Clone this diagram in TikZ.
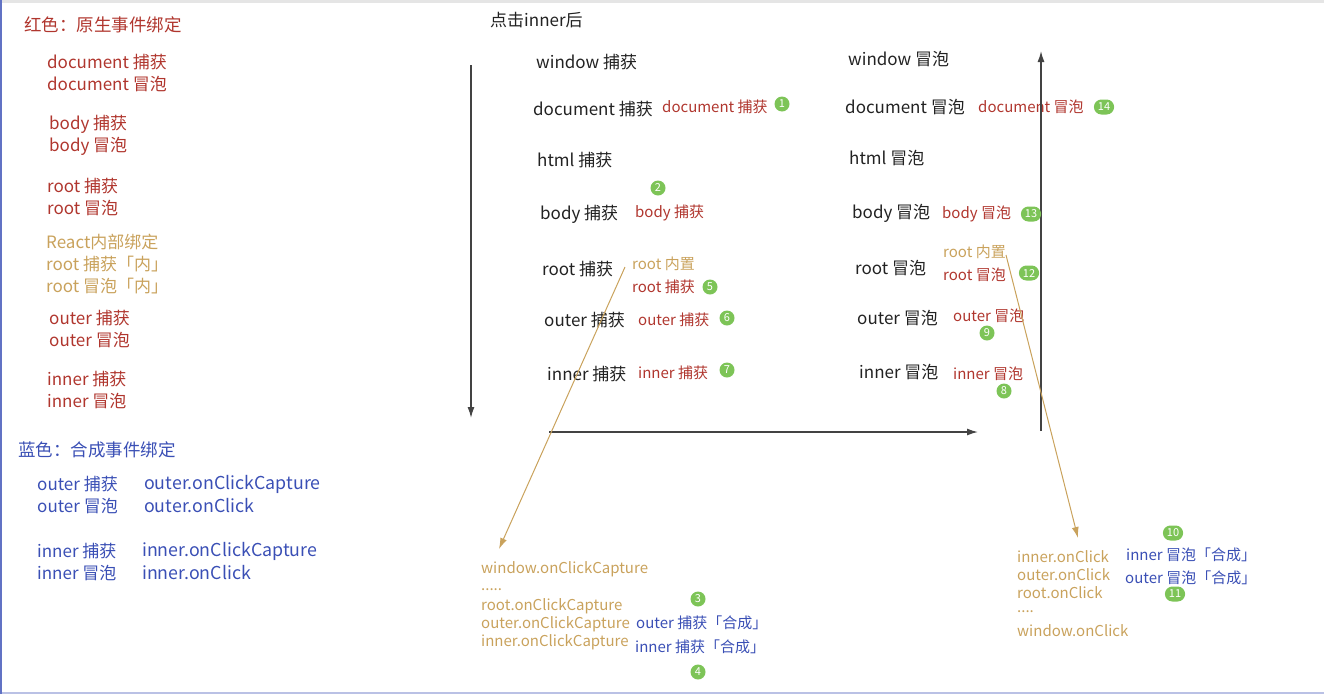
\documentclass[tikz,border=0pt]{standalone}
\usepackage{fontspec}
\setmainfont{Noto Sans CJK SC}
\usetikzlibrary{arrows.meta}
\definecolor{natred}{HTML}{B0362E}
\definecolor{reactgold}{HTML}{C9A25C}
\definecolor{synblue}{HTML}{3A4FB5}
\definecolor{badgegreen}{HTML}{7DC457}
\definecolor{inktext}{HTML}{222222}
\newcommand{\manydots}{.....}
\newcommand{\fourdots}{....}
\tikzset{
  lbl/.style={anchor=west, inner sep=0pt, text=inktext, font=\fontsize{17}{17}\selectfont},
  side/.style={lbl, font=\fontsize{15}{15}\selectfont},
  small/.style={lbl, font=\fontsize{15}{15}\selectfont},
  badge/.style={fill=badgegreen, text=white, rounded corners=7.5pt, inner xsep=4pt, inner ysep=0pt,
    minimum width=15pt, minimum height=15pt, font=\fontsize{11}{11}\selectfont},
  flow/.style={draw=inktext!85, line width=1.4pt, -{Latex[length=11pt,width=7pt]}},
  hook/.style={draw=reactgold, line width=1pt, -{Latex[length=11pt,width=7pt]}}
}
\begin{document}
\begin{tikzpicture}[x=1pt,y=-1pt]
    \useasboundingbox (0,0) rectangle (1324,694);
    % screen frame
    \draw[black!10, line width=3pt] (0,1.5) -- (1324,1.5);
    \draw[synblue!35, line width=2pt] (0,693) -- (1324,693);
    \draw[synblue!80, line width=2pt] (1,0) -- (1,694);

    % legend: native
    \node[lbl, text=natred, font=\fontsize{17.5}{17.5}\selectfont] (natTitle) at (24,25) {红色：原生事件绑定};
    \foreach \x/\y/\t/\n in {47/62/document 捕获/docC, 47/84/document 冒泡/docB,
        49/124/body 捕获/bodyC, 49/146/body 冒泡/bodyB, 47/186/root 捕获/rootC, 47/208/root 冒泡/rootB,
        49/318/outer 捕获/outerC, 49/340/outer 冒泡/outerB, 47/379/inner 捕获/innerC, 47/401/inner 冒泡/innerB}{
        \node[lbl, text=natred] (nat\n) at (\x,\y) {\t};
    }
    \foreach \y/\t/\n in {242/React内部绑定/title, 264/root 捕获「内」/rootC, 286/root 冒泡「内」/rootB}{
        \node[lbl, text=reactgold] (in\n) at (46,\y) {\t};
    }

    % legend: synthetic
    \node[lbl, text=synblue, font=\fontsize{17.5}{17.5}\selectfont] (synTitle) at (18,450) {蓝色：合成事件绑定};
    \foreach \y/\t/\f/\n in {484/outer 捕获/outer.onClickCapture/outerC, 506/outer 冒泡/outer.onClick/outerB}{
        \node[lbl, text=synblue] (syn\n) at (37,\y) {\t};
        \node[lbl, text=synblue, font=\fontsize{17.8}{17.8}\selectfont] (fn\n) at (144,\y) {\f};
    }
    \foreach \y/\t/\f/\n in {551/inner 捕获/inner.onClickCapture/innerC, 573/inner 冒泡/inner.onClick/innerB}{
        \node[lbl, text=synblue] (syn\n) at (37,\y) {\t};
        \node[lbl, text=synblue, font=\fontsize{17.8}{17.8}\selectfont] (fn\n) at (142,\y) {\f};
    }

    % capture phase
    \node[lbl] (clickTitle) at (490,20) {点击inner后};
    \foreach \x/\y/\t/\n in {536/62/window 捕获/win, 533/109/document 捕获/doc, 537/160/html 捕获/html,
        540/214/body 捕获/body, 542/269/root 捕获/root, 544/320/outer 捕获/outer, 547/374/inner 捕获/inner}{
        \node[lbl] (cap\n) at (\x,\y) {\t};
    }
    \node[side, text=natred] (capDocN) at (662,107) {document 捕获};
    \node[side, text=natred] (capBodyN) at (635,213) {body 捕获};
    \node[side, text=reactgold] (capRootIn) at (632,264) {root 内置};
    \node[side, text=natred] (capRootN) at (632,287) {root 捕获};
    \node[side, text=natred] (capOuterN) at (638,320) {outer 捕获};
    \node[side, text=natred] (capInnerN) at (638,373) {inner 捕获};

    % bubble phase
    \foreach \x/\y/\t/\n in {848/59/window 冒泡/win, 845/107/document 冒泡/doc, 849/158/html 冒泡/html,
        852/213/body 冒泡/body, 855/268/root 冒泡/root, 857/318/outer 冒泡/outer, 859/372/inner 冒泡/inner}{
        \node[lbl] (bub\n) at (\x,\y) {\t};
    }
    \node[side, text=natred] (bubDocN) at (978,107) {document 冒泡};
    \node[side, text=natred] (bubBodyN) at (942,214) {body 冒泡};
    \node[side, text=reactgold] (bubRootIn) at (943,252) {root 内置};
    \node[side, text=natred] (bubRootN) at (943,275) {root 冒泡};
    \node[side, text=natred] (bubOuterN) at (953,316) {outer 冒泡};
    \node[side, text=natred] (bubInnerN) at (953,374) {inner 冒泡};

    % axes
    \coordinate (capTop) at (471,65);
    \coordinate (capEnd) at (471,418);
    \coordinate (timeStart) at (549,432);
    \coordinate (timeEnd) at (978,432);
    \coordinate (bubStart) at (1041,431);
    \coordinate (bubEnd) at (1041,51);
    \draw[flow] (capTop) -- (capEnd);
    \draw[flow] (timeStart) -- (timeEnd);
    \draw[flow] (bubStart) -- (bubEnd);

    % react dispatch lists
    \foreach \y/\t/\n in {569/window.onClickCapture/win, 590/\manydots/dots, 606/root.onClickCapture/root,
        624/outer.onClickCapture/outer, 642/inner.onClickCapture/inner}{
        \node[small, text=reactgold] (list\n C) at (481,\y) {\t};
    }
    \foreach \y/\t/\n in {557/inner.onClick/inner, 575/outer.onClick/outer, 593/root.onClick/root,
        612/\fourdots/dots, 631/window.onClick/win}{
        \node[small, text=reactgold] (list\n B) at (1017,\y) {\t};
    }
    \node[side, text=synblue] (synOuterC) at (636,623) {outer 捕获「合成」};
    \node[side, text=synblue] (synInnerC) at (635,647) {inner 捕获「合成」};
    \node[side, text=synblue] (synInnerB) at (1126,555) {inner 冒泡「合成」};
    \node[side, text=synblue] (synOuterB) at (1125,578) {outer 冒泡「合成」};

    % links to react lists
    \coordinate (hookCapFrom) at (625,267);
    \coordinate (hookCapTo) at (499,549);
    \coordinate (hookBubFrom) at (1006,255);
    \coordinate (hookBubTo) at (1078,538);
    \draw[hook] (hookCapFrom) -- (hookCapTo);
    \draw[hook] (hookBubFrom) -- (hookBubTo);

    % order badges
    \foreach \x/\y/\n in {782/104/1, 658/188/2, 698/599/3, 698/672/4, 710/287/5, 727/318/6, 727/370/7,
        1004/391/8, 987/333/9, 1173/533/10, 1175/594/11, 1029/273/12, 1031/214/13, 1104/107/14}{
        \node[badge] (step\n) at (\x,\y) {\n};
    }
\end{tikzpicture}
\end{document}
